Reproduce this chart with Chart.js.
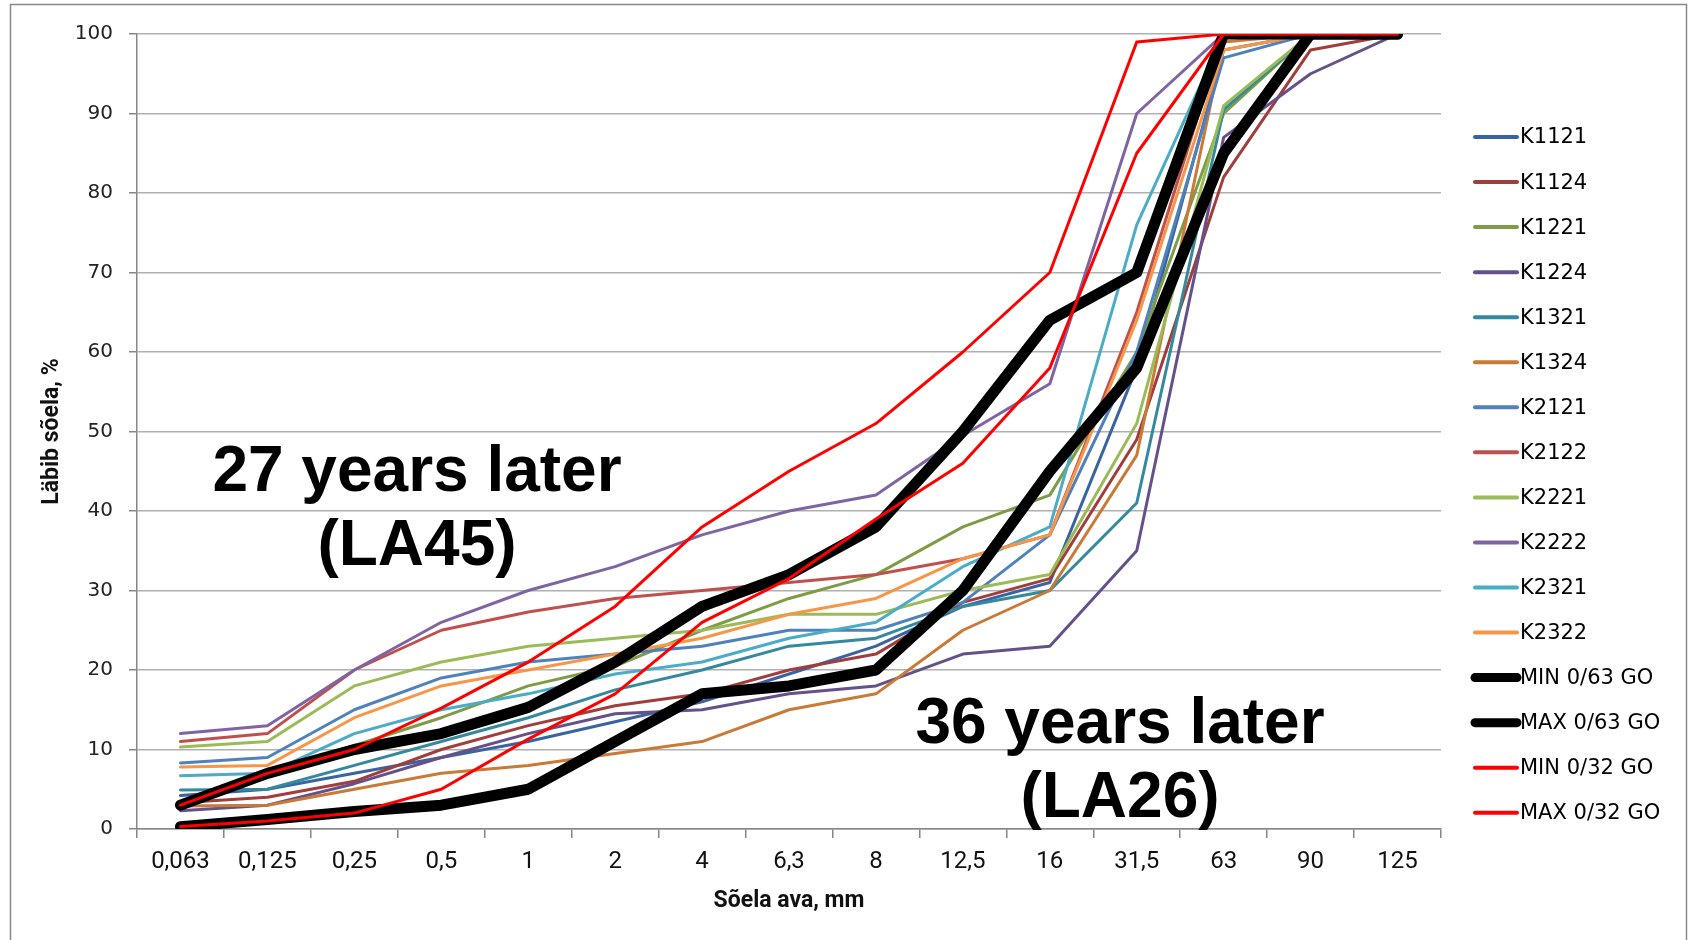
<!DOCTYPE html>
<html>
<head>
<meta charset="utf-8">
<title>Sõelkõverad</title>
<script src="https://cdn.jsdelivr.net/npm/chart.js@4.4.1/dist/chart.umd.min.js"></script>
<style>
  html, body { margin: 0; padding: 0; background: #fff; }
  #wrap { position: relative; width: 1692px; height: 940px; }
</style>
</head>
<body>
<div id="wrap"><canvas id="chart" width="1692" height="940"></canvas></div>
<script>
// sieve sizes (x categories)
var sieves = ['0,063', '0,125', '0,25', '0,5', '1', '2', '4', '6,3', '8', '12,5', '16', '31,5', '63', '90', '125'];

// passing %
var K1121 = [4.2, 5, 7, 9, 11, 13.5, 16, 19.5, 23, 28, 31, 58, 98, 100, 100];
var K1124 = [3.3, 4, 6, 10, 13, 15.5, 17, 20, 22, 28.5, 31.5, 49, 82, 98, 100];
var K1221 = [3, 7, 10.5, 14, 18, 20.5, 25, 29, 32, 38, 42, 60, 90, 100, 100];
var K1224 = [2.3, 3, 5.7, 9, 12, 14.5, 15, 17, 18, 22, 23, 35, 87, 95, 100];
var K1321 = [4.9, 5, 8, 11, 14, 17.5, 20, 23, 24, 28, 30, 41, 90.5, 100, 100];
var K1324 = [2.9, 3, 5, 7, 8, 9.5, 11, 15, 17, 25, 30, 47, 99, 100, 100];
var K2121 = [8.3, 9, 15, 19, 21, 22, 23, 25, 25, 28.5, 37, 60, 97, 100, 100];
var K2122 = [11, 12, 20, 25, 27.3, 29, 30, 31, 32, 34, 37, 65, 100, 100, 100];
var K2221 = [10.3, 11, 18, 21, 23, 24, 25, 27, 27, 30, 32, 51, 91, 100, 100];
var K2222 = [12, 13, 20, 26, 30, 33, 37, 40, 42, 49.5, 56, 90, 100, 100, 100];
var K2321 = [6.7, 7, 12, 15, 17, 19.5, 21, 24, 26, 33, 38, 76, 100, 100, 100];
var K2322 = [7.8, 8, 14, 18, 20, 22, 24, 27, 29, 34, 37, 64, 98, 100, 100];
var min063 = [0.3, 1.2, 2.2, 3, 5, 11, 17, 18, 20, 30, 45, 58, 85, 100, 100];
var max063 = [3, 7, 10, 12, 15.3, 21, 28, 32, 38, 50, 64, 70, 100, 100, 100];
var min032 = [0.3, 1, 2, 5, 11.3, 17, 26, 31.5, 39, 46, 58, 85, 100, 100, 100];
var max032 = [3, 7, 10, 15.2, 21, 28, 38, 45, 51, 60, 70, 99, 100, 100, 100];

var seriesNames = ['K1121', 'K1124', 'K1221', 'K1224', 'K1321', 'K1324',
                   'K2121', 'K2122', 'K2221', 'K2222', 'K2321', 'K2322',
                   'MIN 0/63 GO', 'MAX 0/63 GO', 'MIN 0/32 GO', 'MAX 0/32 GO'];
var seriesData = [K1121, K1124, K1221, K1224, K1321, K1324,
                  K2121, K2122, K2221, K2222, K2321, K2322,
                  min063, max063, min032, max032];
var seriesColors = ['#3A63A1', '#A13D3A', '#7E9C46', '#66508A', '#34899F', '#C97A36',
                    '#4F81BD', '#C0504D', '#9BBB59', '#8064A2', '#4BACC6', '#F79646',
                    '#000000', '#000000', '#FF0000', '#FF0000'];
var seriesWidths = [3, 3, 3, 3, 3, 3, 3, 3, 3, 3, 3, 3, 11, 11, 3, 3];

var notes = [
  { lines: ['27 years later', '(LA45)'], x: 417, y: 491 },
  { lines: ['36 years later', '(LA26)'], x: 1120, y: 743 }
];

var datasets = [];
for (var i = 0; i < seriesNames.length; i++) {
  datasets.push({
    label: seriesNames[i],
    data: seriesData[i],
    borderColor: seriesColors[i],
    backgroundColor: seriesColors[i],
    borderWidth: seriesWidths[i],
    pointRadius: 0,
    tension: 0,
    fill: false,
    borderCapStyle: 'round',
    borderJoinStyle: 'round',
    order: seriesNames.length - i   // later series on top, like Excel
  });
}

var framePlugin = {
  id: 'frame',
  beforeDraw: function(chart) {
    var ctx = chart.ctx;
    ctx.save();
    ctx.fillStyle = '#fff';
    ctx.fillRect(0, 0, chart.width, chart.height);
    ctx.strokeStyle = '#888888';
    ctx.lineWidth = 1.5;
    ctx.strokeRect(10.5, 4.5, 1676, 960);
    ctx.restore();
  }
};

var notesPlugin = {
  id: 'notes',
  afterDraw: function(chart) {
    var ctx = chart.ctx;
    ctx.save();
    ctx.fillStyle = '#000';
    ctx.font = 'bold 64px "Liberation Sans", Arial, sans-serif';
    ctx.textAlign = 'center';
    ctx.textBaseline = 'alphabetic';
    notes.forEach(function(n) {
      n.lines.forEach(function(t, k) {
        ctx.fillText(t, n.x, n.y + k * 74);
      });
    });
    ctx.restore();
  }
};

var legendPlugin = {
  id: 'sideLegend',
  afterDraw: function(chart) {
    var ctx = chart.ctx;
    ctx.save();
    ctx.font = '21px "DejaVu Sans", Verdana, sans-serif';
    ctx.textBaseline = 'middle';
    ctx.textAlign = 'left';
    chart.data.datasets.forEach(function(ds, k) {
      var y = 137 + 45.05 * k;
      ctx.strokeStyle = ds.borderColor;
      ctx.lineWidth = ds.borderWidth > 5 ? 9 : 4;
      ctx.lineCap = 'round';
      ctx.beginPath();
      ctx.moveTo(1475, y);
      ctx.lineTo(1517, y);
      ctx.stroke();
      ctx.fillStyle = '#000';
      ctx.fillText(ds.label, 1520, y + 1);
    });
    ctx.restore();
  }
};

var ctx = document.getElementById('chart').getContext('2d');
var chart = new Chart(ctx, {
  type: 'line',
  data: { labels: sieves, datasets: datasets },
  plugins: [framePlugin, notesPlugin, legendPlugin],
  options: {
    responsive: false,
    animation: false,
    devicePixelRatio: 1,
    layout: { padding: { left: 12, top: 34, right: 251, bottom: 0 } },
    plugins: {
      legend: { display: false },
      tooltip: { enabled: false }
    },
    scales: {
      x: {
        offset: true,
        afterFit: function(s) { s.height = 111; },
        grid: { display: true, drawOnChartArea: false, offset: true, tickLength: 9, color: '#868686', lineWidth: 1.5 },
        border: { display: true, color: '#868686', width: 1.5 },
        ticks: { color: '#111', padding: 10, maxRotation: 0, font: { family: 'Roboto', size: 24 } },
        title: { display: true, text: 'Sõela ava, mm', color: '#111',
                 font: { family: 'Roboto', size: 23, weight: 'bold' }, padding: { top: 0, bottom: 25 } }
      },
      y: {
        min: 0, max: 100,
        afterFit: function(s) { s.width = 125; },
        grid: { color: '#B0B0B0', lineWidth: 1.5, tickLength: 8, tickColor: '#868686' },
        border: { display: true, color: '#868686', width: 1.5 },
        ticks: { stepSize: 10, color: '#222', padding: 16, font: { family: 'DejaVu Sans', size: 20 } },
        title: { display: true, text: 'Läbib sõela, %', color: '#111',
                 font: { family: 'Roboto', size: 23, weight: 'bold' }, padding: { top: 26, bottom: 0 } }
      }
    }
  }
});
</script>
</body>
</html>
